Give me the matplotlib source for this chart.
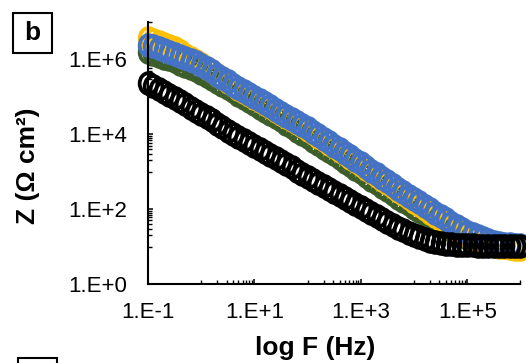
import matplotlib
matplotlib.use("Agg")
import matplotlib.pyplot as plt
from matplotlib.path import Path
from matplotlib.patches import Rectangle
from matplotlib.ticker import FixedLocator, NullFormatter

plt.rcParams["font.family"] = ["Liberation Sans", "DejaVu Sans"]

# frequency sweep, log10(F / Hz), 10 points per decade
log_f = [-1.0, -0.9, -0.8, -0.7, -0.6, -0.5, -0.4, -0.3, -0.2, -0.1,
         0.0, 0.1, 0.2, 0.3, 0.4, 0.5, 0.6, 0.7, 0.8, 0.9,
         1.0, 1.1, 1.2, 1.3, 1.4, 1.5, 1.6, 1.7, 1.8, 1.9,
         2.0, 2.1, 2.2, 2.3, 2.4, 2.5, 2.6, 2.7, 2.8, 2.9,
         3.0, 3.1, 3.2, 3.3, 3.4, 3.5, 3.6, 3.7, 3.8, 3.9,
         4.0, 4.1, 4.2, 4.3, 4.4, 4.5, 4.6, 4.7, 4.8, 4.9,
         5.0, 5.1, 5.2, 5.3, 5.4, 5.5, 5.6, 5.7, 5.8, 5.9, 6.0]

# log10(|Z| / Ohm cm2)
logz_green = [6.20, 6.15, 6.10, 6.05, 6.00, 5.95, 5.89, 5.83, 5.77, 5.71,
              5.65, 5.57, 5.49, 5.41, 5.32, 5.24, 5.15, 5.06, 4.98, 4.89,
              4.80, 4.71, 4.63, 4.54, 4.46, 4.37, 4.28, 4.19, 4.10, 4.01,
              3.92, 3.83, 3.74, 3.64, 3.55, 3.46, 3.36, 3.27, 3.17, 3.08,
              2.98, 2.88, 2.79, 2.69, 2.60, 2.50, 2.41, 2.31, 2.22, 2.13,
              2.04, 1.95, 1.86, 1.77, 1.68, 1.60, 1.52, 1.44, 1.36, 1.29,
              1.22, 1.17, 1.13, 1.10, 1.07, 1.05, 1.04, 1.03, 1.02, 1.01, 1.01]

logz_yellow = [6.58, 6.53, 6.47, 6.41, 6.36, 6.30, 6.22, 6.13, 6.05, 5.96,
               5.88, 5.78, 5.69, 5.59, 5.50, 5.40, 5.31, 5.22, 5.14, 5.05,
               4.96, 4.88, 4.80, 4.72, 4.63, 4.55, 4.46, 4.38, 4.29, 4.21,
               4.12, 4.03, 3.94, 3.84, 3.75, 3.66, 3.56, 3.47, 3.37, 3.28,
               3.18, 3.08, 2.98, 2.89, 2.79, 2.69, 2.59, 2.49, 2.40, 2.30,
               2.20, 2.10, 2.01, 1.91, 1.82, 1.72, 1.63, 1.54, 1.45, 1.36,
               1.28, 1.21, 1.15, 1.10, 1.06, 1.02, 1.00, 0.98, 0.96, 0.94, 0.93]

logz_blue = [6.39, 6.35, 6.30, 6.25, 6.20, 6.15, 6.10, 6.04, 5.98, 5.92,
             5.86, 5.77, 5.68, 5.59, 5.51, 5.42, 5.33, 5.25, 5.16, 5.08,
             4.99, 4.91, 4.83, 4.75, 4.66, 4.58, 4.50, 4.41, 4.33, 4.24,
             4.16, 4.07, 3.98, 3.88, 3.79, 3.70, 3.60, 3.51, 3.41, 3.32,
             3.22, 3.12, 3.03, 2.93, 2.84, 2.74, 2.65, 2.55, 2.46, 2.36,
             2.27, 2.18, 2.09, 2.00, 1.91, 1.82, 1.73, 1.64, 1.56, 1.48,
             1.40, 1.33, 1.27, 1.22, 1.17, 1.13, 1.10, 1.08, 1.06, 1.04, 1.03]

logz_black = [5.38, 5.30, 5.22, 5.14, 5.05, 4.97, 4.88, 4.80, 4.71, 4.63,
              4.54, 4.45, 4.37, 4.28, 4.19, 4.10, 4.02, 3.94, 3.86, 3.77,
              3.69, 3.61, 3.53, 3.44, 3.36, 3.28, 3.20, 3.12, 3.03, 2.95,
              2.87, 2.79, 2.71, 2.62, 2.54, 2.46, 2.38, 2.30, 2.21, 2.13,
              2.05, 1.97, 1.89, 1.81, 1.73, 1.65, 1.58, 1.50, 1.43, 1.36,
              1.30, 1.25, 1.20, 1.16, 1.12, 1.09, 1.07, 1.06, 1.05, 1.04,
              1.03, 1.03, 1.02, 1.02, 1.02, 1.02, 1.02, 1.02, 1.02, 1.02, 1.02]

# drawing order: bottom to top
series = [
    (logz_green, "#3B5E2B"),
    (logz_yellow, "#FFC000"),
    (logz_blue, "#4472C4"),
    (logz_black, "#000000"),
]

x_labels = ["1.E-1", "1.E+1", "1.E+3", "1.E+5"]
y_labels = ["1.E+0", "1.E+2", "1.E+4", "1.E+6"]
x_major = [1e-1, 1e1, 1e3, 1e5]
y_major = [1e0, 1e2, 1e4, 1e6]

W, H = 526, 363
fig = plt.figure(figsize=(W / 100, H / 100), dpi=100)
ax = fig.add_axes([148 / W, 79 / H, 372.4 / W, 262 / H])

# slightly tall open circle, like the Excel markers
circ = Path.unit_circle()
ell = Path(circ.vertices * [0.85, 1.0], circ.codes)

freq = [10 ** v for v in log_f]
for logz, col in series:
    z = [10 ** v for v in logz]
    ax.plot(freq, z, linestyle="none", marker=ell, ms=15, mew=2.7,
            mfc="none", mec=col, clip_on=False)

ax.set_xscale("log")
ax.set_yscale("log")
ax.set_xlim(1e-1, 1e6)
ax.set_ylim(1e0, 1e7)

x_minor = [m * 10 * k for m in x_major for k in range(1, 10) if m * 10 * k <= 1e6]
y_minor = [m * 10 * k for m in y_major for k in range(1, 10) if m * 10 * k <= 1e7]
ax.xaxis.set_major_locator(FixedLocator(x_major))
ax.yaxis.set_major_locator(FixedLocator(y_major))
ax.xaxis.set_minor_locator(FixedLocator(x_minor))
ax.yaxis.set_minor_locator(FixedLocator(y_minor))
ax.xaxis.set_minor_formatter(NullFormatter())
ax.yaxis.set_minor_formatter(NullFormatter())
ax.set_xticklabels(x_labels)
ax.set_yticklabels(y_labels)

ax.tick_params(which="major", direction="in", length=3.8, width=1.1,
               labelsize=16, color="black")
ax.tick_params(which="minor", direction="in", length=2.6, width=1.0, color="black")
ax.tick_params(axis="x", which="major", pad=13)
ax.tick_params(axis="y", which="major", pad=15)

for side in ["top", "right"]:
    ax.spines[side].set_visible(False)
for side in ["left", "bottom"]:
    ax.spines[side].set_linewidth(1.5)
    ax.spines[side].set_color("black")

fig.text(315 / W, (H - 355) / H, "log F (Hz)", ha="center", va="baseline",
         fontsize=19, fontweight="bold")
fig.text(28 / W, 1 - 166 / H, "Z (Ω cm²)", ha="center", va="center",
         rotation=90, fontsize=19, fontweight="bold")

# panel tag "b" and the top edge of the next panel's tag
fig.patches.append(Rectangle((13 / W, 1 - 53 / H), 39 / W, 40 / H, fill=False,
                             lw=1.5, ec="black", transform=fig.transFigure))
fig.text(32.5 / W, 1 - 33 / H, "b", ha="center", va="center",
         fontsize=19, fontweight="bold")
fig.patches.append(Rectangle((18 / W, -0.1), 39 / W, 0.1 + 5 / H, fill=False,
                             lw=1.5, ec="black", transform=fig.transFigure))

fig.savefig("out.png", dpi=100)
